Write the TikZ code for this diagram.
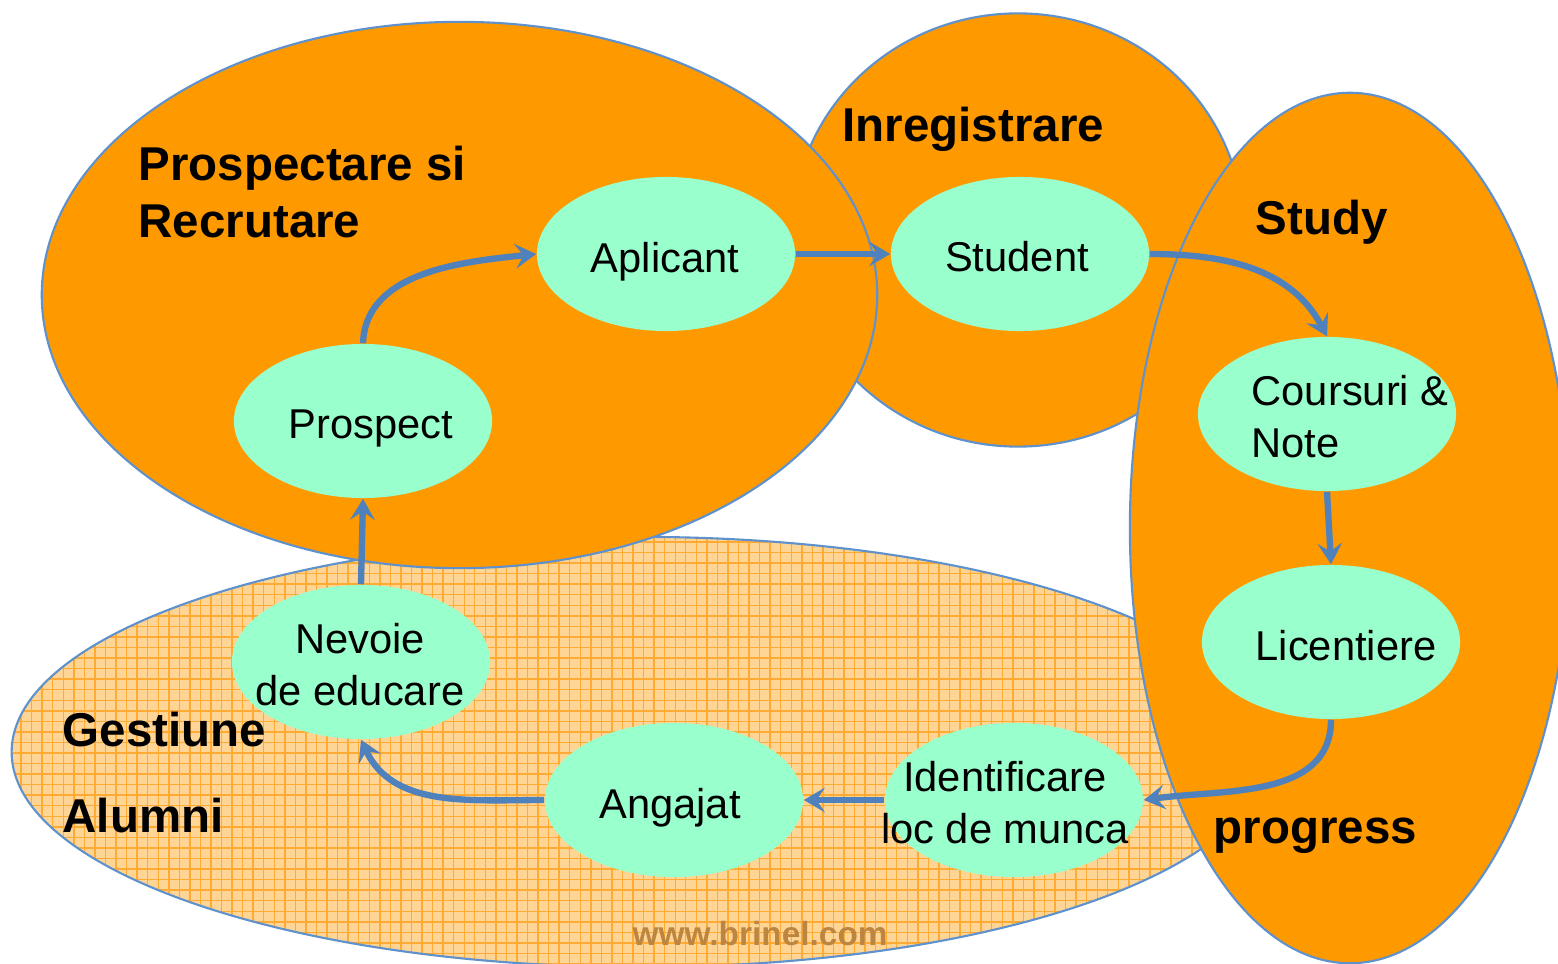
\documentclass[tikz,border=0pt]{standalone}
\usepackage{fontspec}
\setmainfont{Liberation Sans}
\usetikzlibrary{shapes.geometric,arrows.meta,patterns}
\definecolor{orng}{HTML}{FF9900}
\definecolor{grn}{HTML}{99FFCC}
\definecolor{bord}{HTML}{5F92CC}
\definecolor{arr}{HTML}{4F81BD}
\definecolor{lightorng}{HTML}{FFD596}
\definecolor{gridorng}{HTML}{FFAA33}
\definecolor{wm}{HTML}{BC8640}
\begin{document}
\begin{tikzpicture}[x=0.01cm,y=-0.01cm,
  region/.style={fill=orng,draw=bord,line width=0.6pt},
  gnode/.style={ellipse,fill=grn,minimum width=2.58cm,minimum height=1.54cm,inner sep=0pt},
  ntext/.style={inner sep=0pt,font=\fontsize{11.85}{14.8}\selectfont},
  title/.style={inner sep=0pt,font=\fontsize{13.5}{16.2}\selectfont\bfseries},
  flow/.style={draw=arr,line width=1.8pt,-{Stealth[length=6pt,width=7pt,inset=2.4pt]}}]
\useasboundingbox (0,0) rectangle (1558,964);
\fill[white] (0,0) rectangle (1558,964);
\begin{scope}
\clip (0,0) rectangle (1558,964);
% Gestiune Alumni region
\path[preaction={fill=lightorng},pattern=grid,pattern color=gridorng] (640,752) ellipse [x radius=6.28cm, y radius=2.15cm];
\draw[draw=bord,line width=0.6pt] (640,752) ellipse [x radius=6.28cm, y radius=2.15cm];
% Inregistrare region
\path[region] (1018,230) ellipse [x radius=2.25cm, y radius=2.165cm];
% Prospectare region
\path[region] (459.5,295) ellipse [x radius=4.175cm, y radius=2.73cm];
% Study region
\path[region] (1350,528) ellipse [x radius=2.2cm, y radius=4.35cm];
\end{scope}

% region titles
\node[title,anchor=north west,align=left] (tprosp) at (138,145) {Prospectare si\\Recrutare};
\node[title,anchor=base west] (tinreg) at (842,142) {Inregistrare};
\node[title,anchor=base west] (tstudy) at (1255,235) {Study};
\node[title,anchor=base west] (tprog) at (1213,843) {progress};
\node[title,anchor=north west,align=left,font=\fontsize{13.5}{24.5}\selectfont\bfseries] (talum) at (62,711) {Gestiune\\Alumni};

% watermark
\node[anchor=base west,inner sep=0pt,text=wm,font=\fontsize{9.5}{11}\selectfont\bfseries] (wmark) at (632,945) {www.brinel.com};

% process nodes
\node[gnode] (aplicant) at (666,254) {};
\node[gnode] (student) at (1020,254) {};
\node[gnode] (prospect) at (363,421) {};
\node[gnode] (coursuri) at (1327,414) {};
\node[gnode] (licentiere) at (1331,642) {};
\node[gnode] (ident) at (1014,800) {};
\node[gnode] (angajat) at (674,800) {};
\node[gnode] (nevoie) at (361,662) {};

\node[ntext,anchor=base] (aplicantT) at (665,273) {Aplicant};
\node[ntext,anchor=base] (studentT) at (1017,272) {Student};
\node[ntext,anchor=base] (prospectT) at (371,439) {Prospect};
\node[ntext,anchor=west,align=left] (coursuriT) at (1251,417) {Coursuri \&\\Note};
\node[ntext,anchor=base] (licentiereT) at (1346,660) {Licentiere};
\node[ntext,anchor=center,align=center] (identT) at (1005,803) {Identificare\\loc de munca};
\node[ntext,anchor=base] (angajatT) at (670,818) {Angajat};
\node[ntext,anchor=center,align=center] (nevoieT) at (360,665) {Nevoie\\de educare};

% connectors
\draw[flow] (prospect.north) to[out=88,in=186,looseness=0.95] (aplicant.west);
\draw[flow] (aplicant.east) -- (student.west);
\draw[flow] (student.east) to[out=0,in=118] (coursuri.north);
\draw[flow] (coursuri.south) -- (licentiere.north);
\draw[flow] (licentiere.south) to[out=-90,in=8] (ident.east);
\draw[flow] (ident.west) -- (angajat.east);
\draw[flow] (angajat.west) to[out=180,in=-65] (nevoie.south);
\draw[flow] (nevoie.north) -- (prospect.south);
\end{tikzpicture}
\end{document}
